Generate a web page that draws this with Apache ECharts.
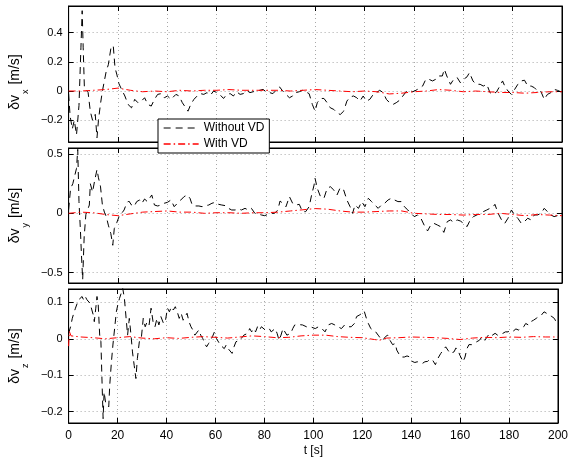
<!DOCTYPE html>
<html><head><meta charset="utf-8">
<script src="https://cdn.jsdelivr.net/npm/echarts@6/dist/echarts.min.js"></script>
<style>html,body{margin:0;padding:0;background:#fff}#c{width:571px;height:459px}</style>
</head><body><div id="c"></div>
<script>
// ---------- data ----------
const xTicks = [0,20,40,60,80,100,120,140,160,180,200];
const yTicksX = [-0.2,0,0.2,0.4];
const yTicksY = [-0.5,0,0.5];
const yTicksZ = [-0.2,-0.1,0,0.1];
const seriesNames = ['Without VD','With VD'];

const xBlackT = [0,0.6,1.5,2.3,3.2,4.2,5.0,5.5,5.9,6.4,7.2,7.9,8.8,9.7,10.8,11.5,12.1,12.9,13.7,14.5,15.3,16.1,17.2,18.1,18.8,19.6,20.4,21.5,
22.8,24.1,25.5,26.8,28.1,29.5,30.8,32.1,33.5,34.8,36.1,37.5,38.8,40.1,41.5,43.5,44.8,46.1,47.5,48.4,49.5,50.8,52.1,53.5,54.8,56.1,57.5,58.8,
60.1,61.5,62.8,64.1,65.5,66.8,68.1,69.5,70.8,72.1,73.5,74.8,76.1,77.5,78.8,80.1,81.5,82.8,84.1,85.5,86.8,88.1,89.5,90.8,92.1,93.5,94.8,96.1,
97.5,98.8,99.9,100.8,102.1,103.5,104.8,106.1,107.5,108.8,110.1,111.5,112.8,114.1,115.5,116.8,118.1,119.4,120.8,122.1,123.5,124.8,126.1,127.5,
128.8,130.1,131.5,132.8,134.1,135.5,136.8,138.1,139.5,140.8,142.1,143.5,144.8,146.1,147.5,148.8,150.1,151.5,152.3,153.3,154.8,156.1,157.5,
158.8,160.1,161.5,162.5,163.9,165.2,166.8,168.1,169.5,170.8,172.1,173.5,174.8,175.9,176.8,178.1,179.5,180.8,182.1,183.5,184.8,186.1,187.5,
188.8,190.1,191.5,192.8,194.1,195.5,196.8,198.1,199.5,200];
const xBlackV = [-0.02,-0.17,-0.26,-0.2,-0.3,-0.1,0.3,0.55,0.3,0.02,0.01,-0.01,-0.14,-0.2,-0.16,-0.32,-0.2,-0.09,0.0,0.07,0.14,0.18,0.3,0.31,0.16,0.11,0.05,0.01,
-0.034,-0.092,-0.115,-0.057,-0.08,-0.069,-0.046,-0.092,-0.103,-0.057,-0.023,-0.018,-0.046,-0.034,-0.057,-0.023,-0.034,-0.08,-0.115,-0.138,-0.092,-0.057,-0.034,-0.018,-0.023,-0.011,-0.028,0,
-0.011,-0.028,-0.051,-0.023,-0.018,-0.034,-0.005,-0.023,-0.018,0.005,-0.011,-0.005,0,0.005,0.011,-0.005,-0.011,-0.018,0.005,0.028,0,-0.023,-0.046,-0.034,-0.011,-0.005,0.005,-0.005,
-0.018,-0.092,-0.138,-0.08,-0.051,-0.051,-0.08,-0.115,-0.126,-0.149,-0.161,-0.138,-0.069,-0.041,-0.034,-0.046,-0.069,-0.034,-0.069,-0.057,-0.023,-0.011,0.005,-0.011,
-0.057,-0.08,-0.092,-0.08,-0.064,-0.034,-0.005,0.005,-0.005,0.005,0.018,0.034,0.08,0.08,0.069,0.08,0.103,0.103,0.149,0.103,0.046,0.08,0.092,
0.057,0.08,0.097,0.126,0.069,0.046,0.046,0.034,0.046,-0.011,-0.023,-0.005,0.034,0.069,0.034,0,-0.023,0.011,0.046,0.069,0.074,0.034,0.034,
0.023,0,-0.005,-0.057,-0.023,-0.011,0.011,0.005,-0.005,-0.005];

const xRedT = [0,5,10,15,20,25,30,35,40,45,50,55,60,65,70,75,80,85,90,95,100,105,110,115,120,125,130,135,140,145,150,155,160,165,170,175,180,185,190,195,200];
const xRedV = [0,0,0.005,0.01,0.02,0.005,-0.005,0,-0.005,0.005,0,0.005,0.005,0.01,0.005,0.005,0.005,0.005,0,0.005,0.01,0.005,0,-0.005,0,-0.005,-0.02,-0.015,-0.005,0,0.01,0.005,-0.005,0,-0.005,-0.01,-0.01,-0.015,-0.01,-0.005,-0.005];

const yBlackT = [0,0.8,1.7,2.5,3.2,3.7,4.2,4.8,5.2,5.7,6.3,7.0,7.5,8.4,8.8,9.7,10.5,11.5,12.1,12.9,13.7,14.5,15.3,16.1,17.1,17.9,18.5,19.5,20.4,21.5,
22.5,23.5,24.4,25.5,26.5,27.6,28.8,29.7,30.8,31.9,32.8,33.7,34.8,36.1,37.5,38.8,40.1,41.5,42.8,44.1,45.5,46.8,48.1,49.2,50.1,51.5,52.8,54.1,
55.5,56.8,58.1,59.5,60.8,62.1,63.5,64.8,66.1,67.5,68.8,70.1,71.5,72.8,74.1,75.5,76.8,78.1,79.5,80.8,82.1,83.5,84.8,85.7,86.8,88.1,89.5,90.8,
92.1,93.5,94.8,96.1,97.5,98.5,99.5,99.9,100.8,102.1,103.5,104.8,106.1,107.5,108.8,110.1,111.5,112.8,114.1,115.1,116.1,117.5,118.8,120.1,121.5,
122.8,124.1,125.5,126.8,128.1,129.5,130.8,132.1,133.5,134.8,136.1,137.5,138.8,140.1,141.5,142.8,144.1,145.5,146.8,148.1,149.5,150.8,152.1,
153.5,154.8,156.1,157.5,158.8,160.1,161.5,162.8,164.1,165.5,166.8,168.1,169.5,170.8,172.1,172.8,174.1,175.5,176.8,178.1,179.5,180.8,182.1,
183.5,184.8,186.1,187.5,188.8,190.1,191.5,192.8,194.1,195.5,196.8,198.1,199.5,200];
const yBlackV = [0.03,0.21,0.25,0.32,0.38,0.54,0.1,-0.15,-0.35,-0.56,-0.2,-0.01,0.0,0.07,0.25,0.18,0.27,0.37,0.3,0.23,0.07,0.01,-0.03,-0.1,-0.17,-0.27,-0.13,-0.08,-0.03,0.0,
0.028,0.085,0.104,0.07,0.056,0.099,0.113,0.085,0.121,0.099,0.127,0.155,0.07,0.062,0.07,0.085,0.093,0.113,0.056,0.085,0.113,0.141,0.155,0.127,0.07,0.062,0.062,0.056,
0.065,0.07,0.085,0.093,0.076,0.07,0.065,0.042,0.028,0.028,0.037,0.028,0.042,0.028,0.042,0,-0.006,-0.014,-0.02,-0.008,0,0,0.028,0.104,0.085,0.056,0.141,0.085,
0.07,0.076,0.014,0.014,0.056,0.155,0.239,0.296,0.211,0.141,0.127,0.211,0.225,0.197,0.155,0.217,0.197,0.113,0.056,0,0.07,0.042,0.099,0.056,0.127,
0.099,0.07,0.042,0.07,0.085,0.113,0.127,0.113,0.099,0.099,0.056,0.028,0,-0.028,-0.014,-0.042,-0.099,-0.149,-0.099,-0.085,-0.099,-0.113,-0.161,
-0.07,-0.056,-0.076,-0.056,-0.065,-0.085,-0.113,-0.056,-0.028,-0.014,0,0.014,0.028,0.042,0.056,0.076,0,-0.056,-0.085,-0.042,0.028,-0.014,-0.042,
-0.085,-0.07,-0.042,-0.056,-0.014,-0.014,0,0.042,0.014,-0.014,-0.028,-0.02,-0.014,-0.02];

const yRedT = [0,5,10,15,20,25,30,35,40,45,50,55,60,65,70,75,80,85,90,95,100,105,110,115,120,125,130,135,140,145,150,155,160,165,170,175,180,185,190,195,200];
const yRedV = [0,0.01,0.005,-0.01,-0.02,-0.005,0.01,0.015,0.02,0.01,0.01,0,0.005,0.005,0,0.005,0.005,0.01,0.02,0.03,0.04,0.035,0.02,0.01,0.01,0.015,0.02,0.02,0,-0.005,-0.01,-0.01,-0.015,-0.01,-0.01,0,-0.01,-0.02,-0.01,-0.015,-0.02];

const zBlackT = [0,0.8,1.5,2.1,2.8,3.5,4.1,4.8,5.5,6.1,6.8,7.5,8.1,8.8,9.5,10.1,10.5,11.1,11.6,12.1,12.7,13.2,13.7,14.1,14.5,15.1,15.7,16.4,16.8,17.5,
18.1,18.8,19.5,20.1,20.8,21.5,22.1,22.8,23.5,24.1,24.8,25.5,26.1,26.8,27.5,28.1,28.9,29.7,30.5,31.3,32.1,32.9,33.7,34.5,35.3,36.1,36.9,37.7,
38.8,39.6,40.4,41.2,42,42.8,43.6,44.4,45.2,46,46.8,47.6,48.4,49.2,50,50.8,51.6,52.4,53.2,54,54.8,55.6,56.4,57.2,58,58.8,59.6,60.4,61.2,62,
62.8,63.6,64.4,65.2,66,66.8,67.6,68.4,69.2,70,70.8,71.6,72.4,73.2,74,74.8,75.6,76.4,77.2,78,78.8,79.6,80.4,81.2,82,82.8,83.6,84.4,85.2,86,
86.8,87.6,88.4,89.2,90,90.8,91.6,92.4,93.2,94,94.8,95.6,96.4,97.2,98,98.8,99.6,100.8,102.1,103.5,104.8,106.1,107.5,108.8,110.1,111.5,112.8,
114.1,115.5,116.8,117.7,118.8,119.9,120.8,121.7,122.5,123.5,124.4,125.5,126.5,127.5,128.4,129.5,130.4,131.5,132.4,133.5,134.1,135.1,136.1,
137.2,138.3,139.5,140.4,141.5,142.5,143.5,144.5,145.6,146.7,147.7,148.8,149.9,150.9,152.1,153.1,154.1,155,155.9,156.7,157.5,158.3,159.1,
159.9,160.7,161.2,162,162.8,163.6,164.7,165.7,166.8,167.9,169,170.1,171.1,172.1,173.2,174.3,175.3,176.4,177.5,178.5,179.6,180.7,181.7,
182.8,183.9,184.9,186,186.8,187.9,188.9,190,191.1,192.1,193.2,194.3,195.3,196.4,197.5,198.5,199.6,200];
const zBlackV = [0.015,0.033,0.056,0.07,0.084,0.097,0.107,0.111,0.116,0.107,0.116,0.107,0.102,0.097,0.079,0.065,0.047,0.084,0.116,0.093,0.01,-0.008,-0.128,-0.219,-0.146,-0.174,-0.178,-0.187,-0.128,-0.063,
-0.017,0.028,0.074,0.093,0.111,0.125,0.139,0.111,0.056,0.01,0.056,0.01,-0.036,-0.073,-0.109,-0.054,-0.008,0.001,0.056,0.033,0.047,0.038,0.084,0.047,0.033,0.056,0.038,0.061,
0.042,0.051,0.084,0.074,0.088,0.079,0.088,0.074,0.056,0.07,0.051,0.061,0.07,0.047,0.033,0.024,0.01,0.006,0.024,0.01,0.001,-0.013,-0.022,-0.013,-0.004,0.006,0.019,0.001,-0.004,-0.017,
-0.013,-0.027,-0.017,-0.027,-0.031,-0.04,-0.022,-0.008,-0.013,-0.004,0.001,0.01,0.006,0.015,0.028,0.019,0.028,0.019,0.033,0.024,0.033,0.028,0.024,0.019,0.028,0.019,0.024,0.028,0.015,-0.004,
0.01,0.028,0.033,0.01,0.012,0.015,0.028,0.038,0.042,0.039,0.042,0.038,0.036,0.033,0.036,0.033,0.03,0.028,0.033,0.028,0.019,0.038,0.042,0.038,0.033,0.028,0.038,
0.033,0.033,0.042,0.061,0.065,0.07,0.076,0.056,0.042,0.028,0.024,0.019,0.01,0.001,-0.004,0.006,0.01,-0.006,-0.016,-0.013,-0.031,-0.043,-0.05,
-0.05,-0.047,-0.05,-0.062,-0.065,-0.063,-0.066,-0.068,-0.063,-0.062,-0.056,-0.059,-0.071,-0.054,-0.04,-0.031,-0.022,-0.031,-0.04,-0.045,-0.036,-0.025,-0.031,
-0.045,-0.05,-0.063,-0.05,-0.027,-0.016,-0.016,-0.013,-0.008,-0.004,0.006,-0.004,0.006,0.015,0.01,0.015,0.01,0.012,0.015,0.019,0.019,0.024,0.021,
0.027,0.024,0.028,0.033,0.042,0.038,0.047,0.051,0.056,0.061,0.065,0.074,0.07,0.065,0.061,0.056,0.042,0.04];

const zRedT = [0,0.3,1,5,10,15,20,25,30,35,40,45,50,55,60,65,70,75,80,85,90,95,100,105,110,115,120,125,127,130,135,140,145,150,155,160,165,170,175,180,185,190,195,200];
const zRedV = [-0.02,0.02,0.008,0.005,0.003,0,0.003,0.006,0.002,0,0.003,0.001,0.004,0.006,0.004,0.002,0.005,0.008,0.006,0.003,0.004,0.008,0.01,0.01,0.006,0.004,0.003,-0.002,-0.004,0.002,0.003,0.005,0.004,0.003,0.001,-0.002,0.002,0.004,0.003,0.005,0.004,0.006,0.005,0.005];

// ---------- chart ----------
const FONT = '"Liberation Sans", Arial, sans-serif';
const zip = (t, v) => t.map((x, i) => [x, v[i]]);
const fmt = v => v === 0 ? '0' : (v < 0 ? '\u2212' : '') + Math.abs(v);
const grids = [
  {left: 63, right: 9, top: 6, height: 136},
  {left: 63, right: 9, top: 148, height: 135},
  {left: 63, right: 9, top: 289, height: 134}
];
const ranges = [[-0.349, 0.582], [-0.589, 0.552], [-0.231, 0.1366]];
const ticks = [yTicksX, yTicksY, yTicksZ];
const subs = ['x', 'y', 'z'];
const namePads = [[0, 16, 0, 0], [0, 0, 0, 0], [0, 0, 0, 0]];
const grid = grids.map(g => Object.assign({show: true, borderColor: '#000', borderWidth: 1, backgroundColor: '#fff'}, g));
const xAxis = [], yAxis = [];
const tickStyle = {inside: true, length: 5, lineStyle: {color: '#000', width: 1}};
const lineAx = {show: true, onZero: false, lineStyle: {color: '#000'}};
const dotted = {show: true, lineStyle: {color: '#a8a8a8', width: 1, type: [1, 3]}};
for (let i = 0; i < 3; i++) {
  xAxis.push({type: 'value', gridIndex: i, min: 0, max: 200, interval: 20, position: 'bottom',
    axisLine: lineAx, axisTick: tickStyle,
    axisLabel: {show: i === 2, fontSize: 12, color: '#000', fontFamily: FONT, margin: 7},
    splitLine: dotted,
    name: i === 2 ? 't [s]' : '', nameLocation: 'middle', nameGap: 22,
    nameTextStyle: {fontSize: 12, color: '#000', fontFamily: FONT}});
  xAxis.push({type: 'value', gridIndex: i, min: 0, max: 200, interval: 20, position: 'top',
    axisLine: lineAx, axisTick: tickStyle,
    axisLabel: {show: false}, splitLine: {show: false}});
  yAxis.push({type: 'value', gridIndex: i, min: ranges[i][0], max: ranges[i][1], position: 'left',
    axisLine: lineAx,
    axisTick: Object.assign({customValues: ticks[i]}, tickStyle),
    axisLabel: {customValues: ticks[i], formatter: fmt, fontSize: 11, color: '#000', fontFamily: FONT, margin: 6},
    splitLine: dotted,
    name: '{m|\u03b4v}{s|' + subs[i] + '}{m| [m/s]}', nameLocation: 'middle', nameRotate: 90, nameGap: 31,
    nameTextStyle: {padding: namePads[i], rich: {
      m: {fontSize: 14, lineHeight: 30, color: '#000', fontFamily: FONT},
      s: {fontSize: 9, lineHeight: 9, verticalAlign: 'bottom', padding: [0, 1, 0, 1], color: '#000', fontFamily: FONT}
    }}});
  yAxis.push({type: 'value', gridIndex: i, min: ranges[i][0], max: ranges[i][1], position: 'right',
    axisLine: lineAx,
    axisTick: Object.assign({customValues: ticks[i]}, tickStyle),
    axisLabel: {show: false}, splitLine: {show: false}});
}
const blackStyle = {color: '#000', width: 1, type: [7, 5]};
const redStyle = {color: '#ff0000', width: 1, type: [7, 3, 1.5, 3]};
const blacks = [zip(xBlackT, xBlackV), zip(yBlackT, yBlackV), zip(zBlackT, zBlackV)];
const reds = [zip(xRedT, xRedV), zip(yRedT, yRedV), zip(zRedT, zRedV)];
const series = [];
for (let i = 0; i < 3; i++) {
  series.push({name: seriesNames[0], type: 'line', xAxisIndex: 2 * i, yAxisIndex: 2 * i, data: blacks[i],
    symbol: 'none', color: '#000', lineStyle: blackStyle, animation: false, z: 3});
  series.push({name: seriesNames[1], type: 'line', xAxisIndex: 2 * i, yAxisIndex: 2 * i, data: reds[i],
    symbol: 'none', color: '#ff0000', lineStyle: redStyle, animation: false, z: 4});
}
const chart = echarts.init(document.getElementById('c'), null, {renderer: 'canvas'});
chart.setOption({
  animation: false,
  backgroundColor: '#fff',
  grid, xAxis, yAxis, series,
  legend: {
    data: [
      {name: seriesNames[0], itemStyle: {opacity: 0}, lineStyle: {color: '#000', width: 1, type: [7, 5], opacity: 1}},
      {name: seriesNames[1], itemStyle: {opacity: 0}, lineStyle: {color: '#ff0000', width: 1.3, type: [7, 3, 1.5, 3], opacity: 1}}
    ],
    orient: 'vertical', left: 158, top: 119, itemWidth: 35, itemHeight: 14, itemGap: 4,
    padding: [3, 5], backgroundColor: '#fff', borderColor: '#000', borderWidth: 1, selectedMode: false,
    textStyle: {fontSize: 12, color: '#000', fontFamily: FONT}, z: 10}
});
</script>
</body></html>
